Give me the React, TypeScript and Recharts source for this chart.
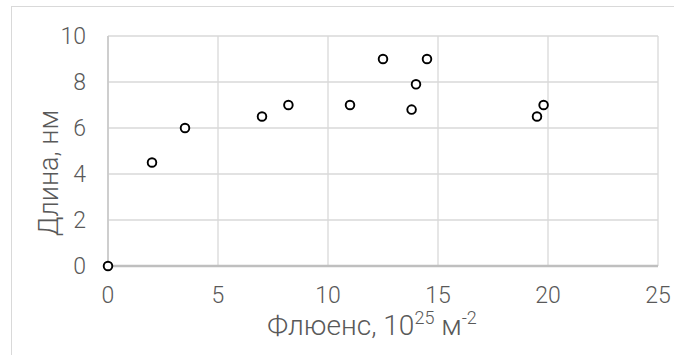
import React from "react";
import { ScatterChart, Scatter, XAxis, YAxis, CartesianGrid } from "recharts";

// значения
const fluence = [0, 2, 3.5, 7, 8.2, 11, 12.5, 13.8, 14, 14.5, 19.5, 19.8];
const lengthNm = [0, 4.5, 6, 6.5, 7, 7, 9, 6.8, 7.9, 9, 6.5, 7];
const xTicks = [0, 5, 10, 15, 20, 25];
const yTicks = [0, 2, 4, 6, 8, 10];

const points = fluence.map((x, i) => ({ x, y: lengthNm[i] }));

const FONT = "Roboto, 'Open Sans', sans-serif";
const TEXT = "#595959";
const GRID = "#d9d9d9";

function Marker(props: any) {
  const { cx, cy } = props;
  if (cx == null || cy == null) return null;
  return <circle cx={cx} cy={cy} r={4.3} fill="#fff" stroke="#000" strokeWidth={1.9} />;
}

export default function App() {
  return (
    <div style={{ position: "absolute", left: 0, top: 0, width: 674, height: 355, background: "#fff" }}>
      <div
        style={{
          position: "absolute",
          left: 11,
          top: 6,
          width: 663,
          height: 349,
          boxSizing: "border-box",
          borderTop: `1px solid ${GRID}`,
          borderLeft: `1px solid ${GRID}`,
        }}
      />
      <div style={{ position: "absolute", left: 0, top: 0 }}>
        <ScatterChart width={674} height={355} margin={{ top: 36, right: 16, bottom: 0, left: 0 }}>
          <CartesianGrid stroke={GRID} strokeWidth={1.3} />
          <XAxis
            type="number"
            dataKey="x"
            domain={[0, 25]}
            ticks={xTicks}
            interval={0}
            height={89}
            tickSize={0}
            tickMargin={21}
            tickLine={false}
            axisLine={{ stroke: "#bfbfbf", strokeWidth: 2.5 }}
            tick={{ fill: TEXT, fontSize: 23, fontFamily: FONT, fontWeight: 300 }}
            label={{
              content: () => (
                <text x={372} y={335} textAnchor="middle" fill={TEXT} fontSize={28} fontFamily={FONT} fontWeight={300}>
                  Флюенс, 10
                  <tspan fontSize={18} dy={-11}>25</tspan>
                  <tspan dy={11}> м</tspan>
                  <tspan fontSize={18} dy={-11}>-2</tspan>
                </text>
              ),
            }}
          />
          <YAxis
            type="number"
            dataKey="y"
            domain={[0, 10]}
            ticks={yTicks}
            interval={0}
            width={108}
            tickSize={0}
            tickMargin={22}
            tickLine={false}
            axisLine={{ stroke: "#c8c8c8", strokeWidth: 1.6 }}
            tick={{ fill: TEXT, fontSize: 23, fontFamily: FONT, fontWeight: 300 }}
            label={{
              content: () => (
                <text
                  x={58}
                  y={173}
                  transform="rotate(-90, 58, 173)"
                  textAnchor="middle"
                  fill={TEXT}
                  fontSize={27}
                  fontFamily={FONT}
                  fontWeight={300}
                >
                  Длина, нм
                </text>
              ),
            }}
          />
          <Scatter data={points} shape={Marker} isAnimationActive={false} />
        </ScatterChart>
      </div>
    </div>
  );
}
